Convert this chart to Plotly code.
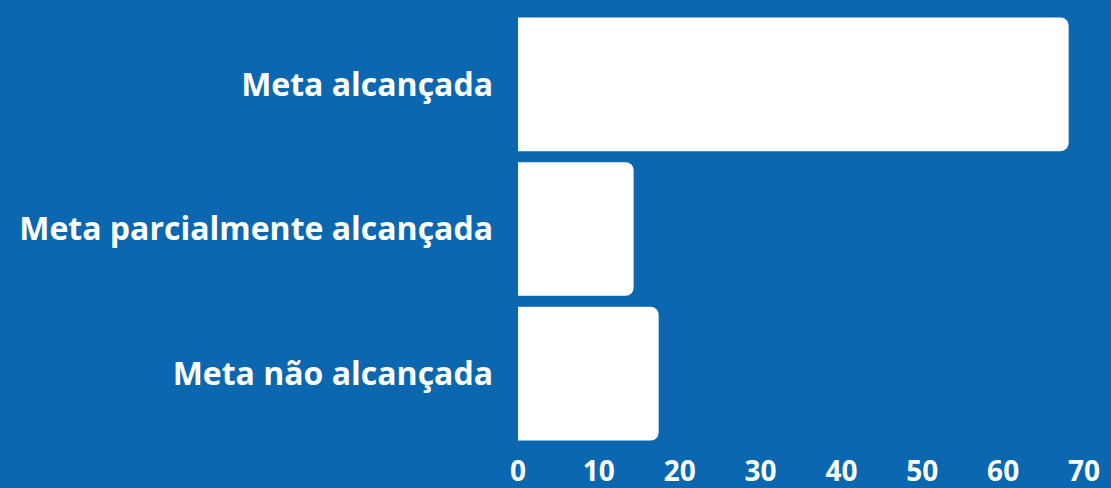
import plotly.graph_objects as go

categories = ["Meta alcançada", "Meta parcialmente alcançada", "Meta não alcançada"]
values = [68.1, 14.3, 17.4]
tick_vals = [0, 10, 20, 30, 40, 50, 60, 70]

BG = "#0B68B0"

fig = go.Figure(go.Bar(
    x=values,
    y=categories,
    orientation="h",
    marker=dict(color="white", line=dict(width=0), cornerradius=8),
    hoverinfo="x+y",
))

fig.update_layout(
    width=1111, height=488,
    paper_bgcolor=BG, plot_bgcolor=BG,
    margin=dict(l=518, r=27, t=11.5, b=41.5),
    bargap=0.076,
    showlegend=False,
    font=dict(family="Open Sans", color="white"),
)
fig.update_xaxes(
    range=[0, 70], tickvals=tick_vals, showgrid=False, zeroline=False,
    showline=False, ticks="", ticklabelstandoff=6, automargin=False,
    tickfont=dict(family="Open Sans", size=28, color="white", weight="bold"),
    fixedrange=True,
)
fig.update_yaxes(
    categoryorder="array", categoryarray=categories[::-1],
    showgrid=False, zeroline=False, showline=False, ticks="",
    ticklabelstandoff=24, automargin=False,
    tickfont=dict(family="Open Sans", size=32, color="white", weight="bold"),
    fixedrange=True,
)

fig.write_html(
    "out.html",
    config={"displayModeBar": False},
    post_script="document.body.style.margin='0';document.body.style.background='" + BG + "';",
)
